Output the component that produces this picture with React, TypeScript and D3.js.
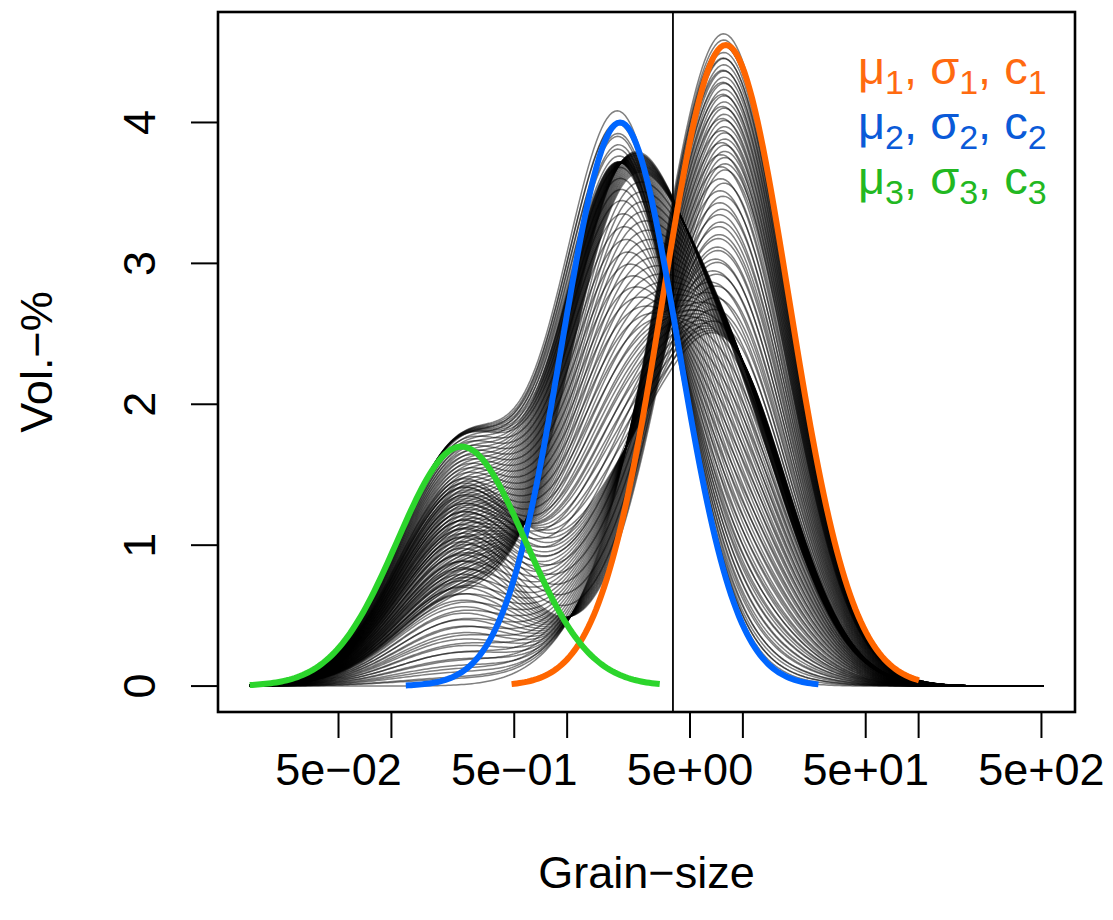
import * as d3 from "d3";

// axis ticks
const xTickValues = [0.05, 0.5, 5, 50, 500];
const xTickText = ["5e\u221202", "5e\u221201", "5e+00", "5e+01", "5e+02"];
const xTickMinor = [0.1, 1, 10, 100];
const yTicks = [0, 1, 2, 3, 4];

// data limits (grain-size classes 2^-6 .. 2^9) and the split line
const xLimits = [2 ** -6, 2 ** 9];
const yLimits = [0, 4.6];
const splitAt = 4;

// end-members: peak grain-size, sd (log2 units), height, drawn range
const emMu = [8, 2, 0.25];
const emSigma = [1.19, 1.1, 1.21];
const emC = [4.55, 4.0, 1.7];
const emFrom = [0.47, 0.12, 2 ** -6];
const emTo = [102, 27.5, 3.47];
const emColor = ["#ff6600", "#0066ff", "#2cd52c"];
const emTextColor = ["#ff6a10", "#0a5ad8", "#22b822"];

// mixing path: weight of each end-member at key samples, samples per leg
const mixW1 = [0.0, 0.04, 0.42, 0.45, 0.5, 1.0, 0.8, 0.15, 0.0];
const mixW2 = [1.0, 0.9, 0.8, 0.75, 0.25, 0.1, 0.03, 0.8, 1.0];
const mixW3 = [1.0, 0.95, 0.5, 0.35, 0.85, 0.0, 0.6, 1.0, 1.0];
const mixSteps = [4, 30, 12, 25, 25, 22, 25, 8];

const FONT = "'Liberation Sans', Arial, Helvetica, sans-serif";

const em = (i: number, x: number) => {
  const z = (Math.log2(x) - Math.log2(emMu[i])) / emSigma[i];
  return emC[i] * Math.exp(-0.5 * z * z);
};

export default function App() {
  const width = 1113;
  const height = 920;
  const box = { left: 218, right: 1075, top: 12, bottom: 712 };

  // R style 4% padding
  const lx0 = Math.log10(xLimits[0]);
  const lx1 = Math.log10(xLimits[1]);
  const px = (lx1 - lx0) * 0.04;
  const x = d3
    .scaleLog()
    .domain([10 ** (lx0 - px), 10 ** (lx1 + px)])
    .range([box.left, box.right]);
  const py = (yLimits[1] - yLimits[0]) * 0.04;
  const y = d3
    .scaleLinear()
    .domain([yLimits[0] - py, yLimits[1] + py])
    .range([box.bottom, box.top]);

  const grid = d3.range(-6, 9.0001, 0.05).map((p) => 2 ** p);

  const samples: number[][] = [];
  mixSteps.forEach((n, k) => {
    for (let s = 0; s < n; s++) {
      const t = s / n;
      samples.push([
        mixW1[k] + (mixW1[k + 1] - mixW1[k]) * t,
        mixW2[k] + (mixW2[k + 1] - mixW2[k]) * t,
        mixW3[k] + (mixW3[k + 1] - mixW3[k]) * t,
      ]);
    }
  });

  const line = d3
    .line<[number, number]>()
    .x((d) => x(d[0]))
    .y((d) => y(d[1]));

  const greyPaths = samples.map((w) =>
    line(grid.map((g) => [g, w[0] * em(0, g) + w[1] * em(1, g) + w[2] * em(2, g)]))
  );

  const emPaths = emMu.map((_, i) =>
    line(grid.filter((g) => g >= emFrom[i] * 0.999 && g <= emTo[i] * 1.001).map((g) => [g, em(i, g)]))
  );

  const legendRows = [1, 2, 3];

  return (
    <svg
      width={width}
      height={height}
      style={{ position: "absolute", left: 0, top: 0, background: "#fff" }}
      fontFamily={FONT}
    >
      <defs>
        <clipPath id="plotclip">
          <rect x={box.left} y={box.top} width={box.right - box.left} height={box.bottom - box.top} />
        </clipPath>
      </defs>
      <g clipPath="url(#plotclip)">
        {greyPaths.map((d, i) => (
          <path key={i} d={d ?? ""} fill="none" stroke="rgba(0,0,0,0.5)" strokeWidth={1.5} />
        ))}
        <line x1={x(splitAt)} x2={x(splitAt)} y1={box.top} y2={box.bottom} stroke="#000" strokeWidth={1.8} />
        {emPaths.map((d, i) => (
          <path key={i} d={d ?? ""} fill="none" stroke={emColor[i]} strokeWidth={6} />
        ))}
      </g>
      <rect
        x={box.left}
        y={box.top}
        width={box.right - box.left}
        height={box.bottom - box.top}
        fill="none"
        stroke="#000"
        strokeWidth={2.6}
      />
      {/* x axis */}
      {[...xTickValues, ...xTickMinor].map((v, i) => (
        <line key={i} x1={x(v)} x2={x(v)} y1={box.bottom} y2={box.bottom + 26} stroke="#000" strokeWidth={2} />
      ))}
      {xTickValues.map((v, i) => (
        <text key={i} x={x(v)} y={785} fontSize={45} textAnchor="middle">
          {xTickText[i]}
        </text>
      ))}
      {/* y axis */}
      {yTicks.map((v) => (
        <g key={v}>
          <line x1={box.left - 27} x2={box.left} y1={y(v)} y2={y(v)} stroke="#000" strokeWidth={2} />
          <text
            transform={`translate(155,${y(v)}) rotate(-90)`}
            fontSize={45}
            textAnchor="middle"
          >
            {v}
          </text>
        </g>
      ))}
      <text x={(box.left + box.right) / 2} y={888} fontSize={45} textAnchor="middle">
        Grain{"\u2212"}size
      </text>
      <text
        transform={`translate(52,${(box.top + box.bottom) / 2}) rotate(-90)`}
        fontSize={45}
        textAnchor="middle"
      >
        Vol.{"\u2212"}%
      </text>
      {/* legend */}
      {legendRows.map((n, i) => (
        <text key={n} x={858} y={84 + i * 55} fontSize={47} fill={emTextColor[i]}>
          <tspan>{"\u03bc"}</tspan>
          <tspan fontSize={34} dy={10}>{n}</tspan>
          <tspan dy={-10}>, {"\u03c3"}</tspan>
          <tspan fontSize={34} dy={10}>{n}</tspan>
          <tspan dy={-10}>, c</tspan>
          <tspan fontSize={34} dy={10}>{n}</tspan>
        </text>
      ))}
    </svg>
  );
}
